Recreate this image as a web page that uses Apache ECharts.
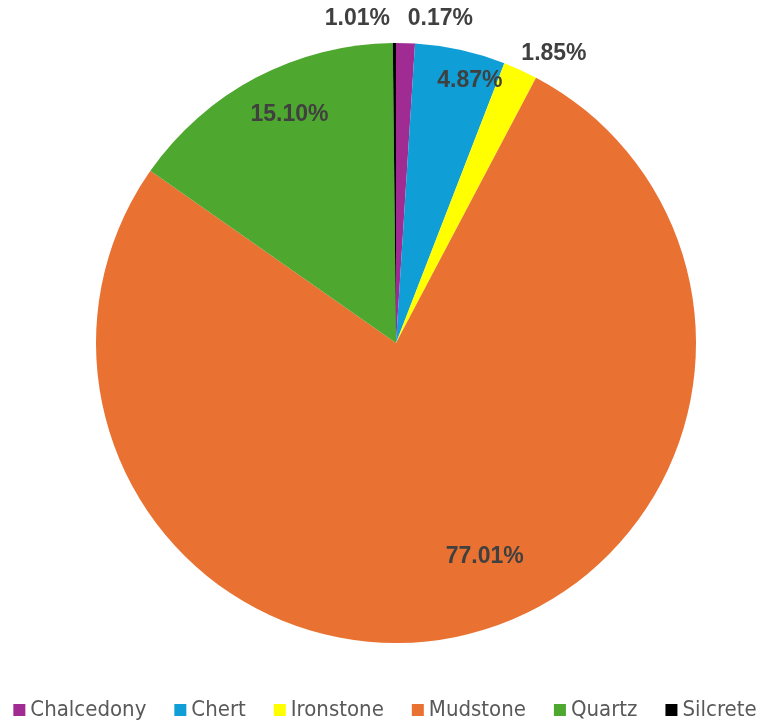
<!DOCTYPE html>
<html>
<head>
<meta charset="utf-8">
<script src="https://cdn.jsdelivr.net/npm/echarts@6/dist/echarts.min.js"></script>
<style>
html,body{margin:0;padding:0;background:#fff;}
#chart{width:770px;height:723px;}
</style>
</head>
<body>
<div id="chart"></div>
<script>
const categories = ['Chalcedony', 'Chert', 'Ironstone', 'Mudstone', 'Quartz', 'Silcrete'];
const percentages = [1.01, 4.87, 1.85, 77.01, 15.10, 0.17];
const colors = ['#A02B93', '#0F9ED5', '#FFFF00', '#E97132', '#4EA72E', '#000000'];

// label placement styling (fraction of radius, angle nudge in degrees)
const labelRadiusFactor = [1.09, 0.91, 1.1, 0.77, 0.84, 1.09];
const labelAngleNudge = [-8.6, 3.3, 4.1, -9, 2.8, 8.1];

const CX = 396, CY = 343, R = 300;

const total = percentages.reduce((a, b) => a + b, 0);
const midAngles = [];
let acc = 0;
percentages.forEach(v => { midAngles.push((acc + v / 2) / total * 360); acc += v; });

const chart = echarts.init(document.getElementById('chart'));
chart.setOption({
  animation: false,
  color: colors,
  legend: {
    top: 694,
    left: 'center',
    itemWidth: 12,
    itemHeight: 12,
    itemGap: 28,
    icon: 'rect',
    textStyle: { fontFamily: 'Liberation Sans Narrow, DejaVu Sans Condensed, sans-serif', fontSize: 22, color: '#595959' },
    data: categories
  },
  series: [{
    type: 'pie',
    center: [CX, CY],
    radius: [0, R],
    startAngle: 90,
    clockwise: true,
    avoidLabelOverlap: false,
    itemStyle: { borderColor: '#ffffff', borderWidth: 0 },
    label: {
      show: true,
      position: 'inside',
      formatter: p => percentages[p.dataIndex].toFixed(2) + '%',
      fontFamily: 'Liberation Sans, Arial, sans-serif',
      fontWeight: 'bold',
      fontSize: 23,
      color: '#404040'
    },
    labelLine: { show: false },
    labelLayout: function (params) {
      const i = params.dataIndex;
      const a = (midAngles[i] + labelAngleNudge[i]) * Math.PI / 180;
      const r = R * labelRadiusFactor[i];
      return {
        x: CX + r * Math.sin(a),
        y: CY - r * Math.cos(a),
        align: 'center',
        verticalAlign: 'middle'
      };
    },
    data: categories.map((c, i) => ({ name: c, value: percentages[i] }))
  }]
});
</script>
</body>
</html>
